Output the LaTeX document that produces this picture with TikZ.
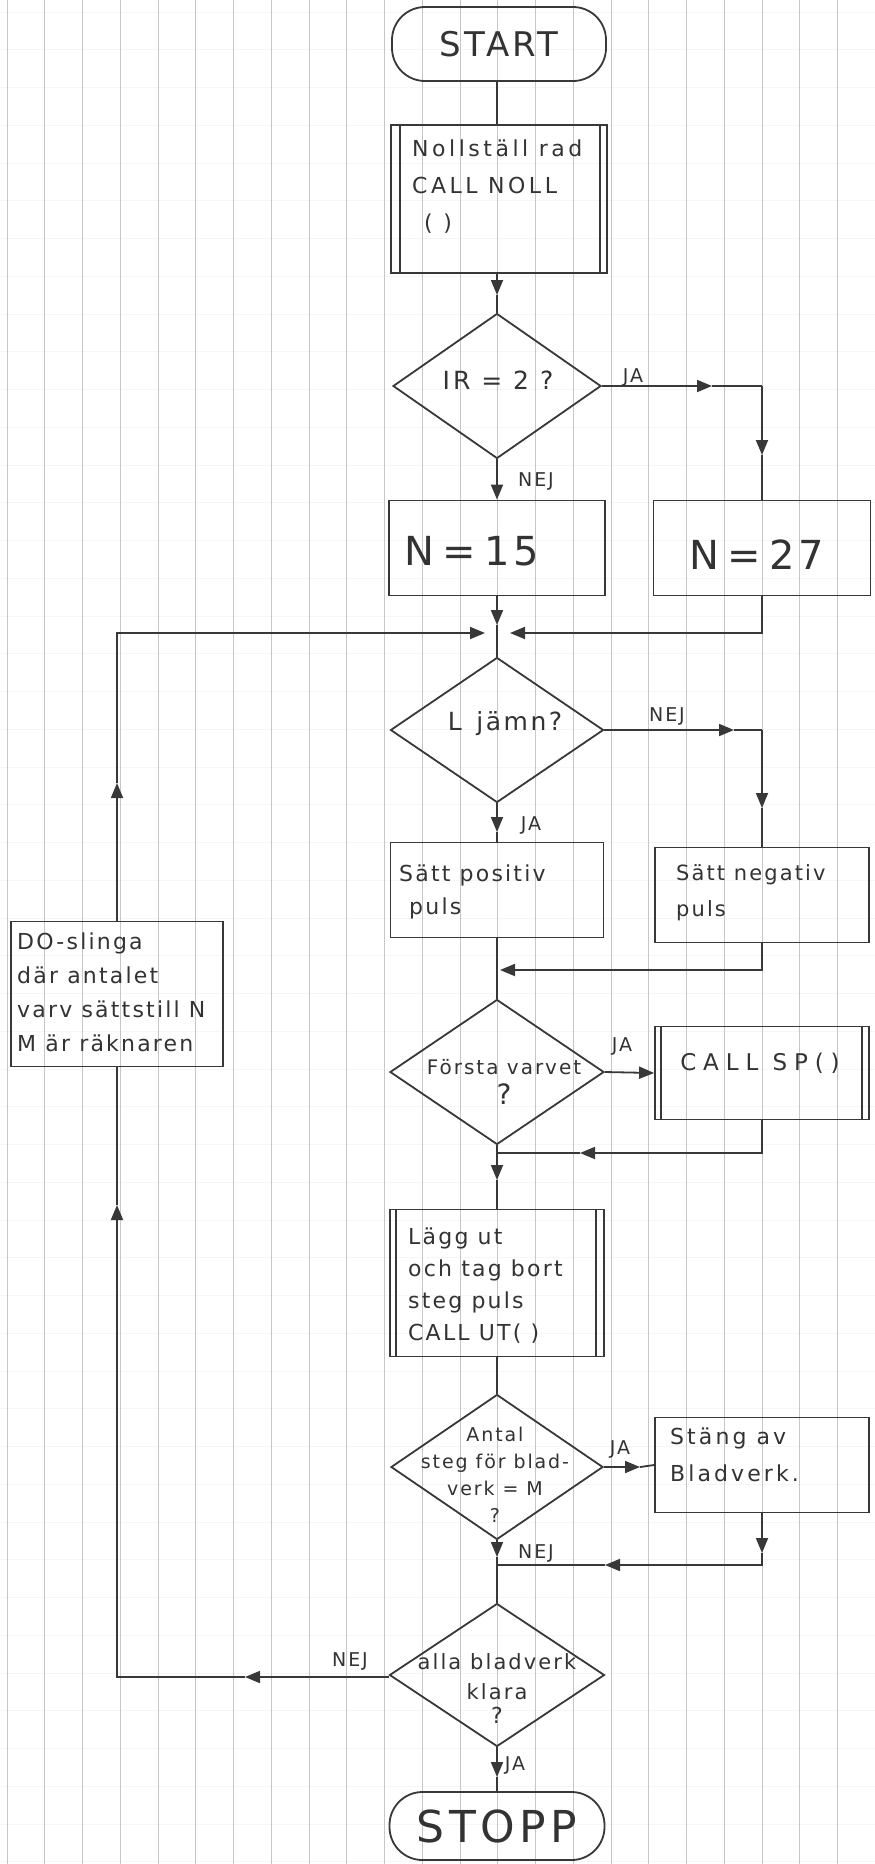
\documentclass[tikz,border=0pt]{standalone}
\usepackage{fontspec}
\setmainfont{DejaVu Sans}[LetterSpace=10]
\usetikzlibrary{shapes.geometric,arrows.meta}
\begin{document}
\begin{tikzpicture}[x=1pt,y=-1pt,
  ln/.style={line width=1.8pt, draw=black!78},
  box/.style={ln, rectangle, inner sep=0pt},
  dia/.style={ln, diamond, inner sep=0pt},
  term/.style={ln, rectangle, rounded corners=33pt, inner sep=0pt},
  arr/.style={ln, -{Triangle[length=15pt,width=12pt]}},
  lab/.style={font=\fontsize{19}{22}\selectfont, text=black!80, inner sep=0pt},
  txt/.style={font=\fontsize{22}{33}\selectfont, text=black!80, align=left, inner sep=0pt},
  ctxt/.style={text=black!80, align=center, inner sep=0pt},
]
\fill[white] (0,0) rectangle (875,1864);
\useasboundingbox (0,0) rectangle (875,1864);
% graph paper
\foreach \k in {-9,...,40} \draw[gray!7, line width=0.8pt] (0,{1522-37.75*\k}) -- (875,{1522-37.75*\k});
\foreach \k in {0,...,23} \draw[gray!45, line width=0.9pt] ({7+37.75*\k},0) -- ({7+37.75*\k},1864);

% ---------- nodes ----------
\node[term, minimum width=214pt, minimum height=74pt, font=\fontsize{34}{40}\selectfont, text=black!80] (start) at (499,44) {START};

\node[box, minimum width=216pt, minimum height=148pt] (noll) at (499,199) {};
\draw[ln] ([xshift=10pt]noll.north west) -- ([xshift=10pt]noll.south west);
\draw[ln] ([xshift=-8pt]noll.north east) -- ([xshift=-8pt]noll.south east);
\node[txt, anchor=north west, font=\fontsize{22}{37}\selectfont\addfontfeature{LetterSpace=16}] (nolltxt) at (412,140) {Nollställ rad\\CALL NOLL\\\hspace{12pt}( )};

\node[dia, minimum width=208pt, minimum height=145pt] (ir) at (497,386) {};
\node[ctxt, font=\fontsize{25}{30}\selectfont\addfontfeature{LetterSpace=12}] (irtxt) at (498,380) {IR = 2 ?};

\node[box, minimum width=216pt, minimum height=95pt] (n15) at (497,548) {};
\node[ctxt, font=\fontsize{40}{44}\selectfont] (n15txt) at (472,551) {N\hspace{8pt}=\hspace{8pt}15};

\node[box, minimum width=217pt, minimum height=95pt] (n27) at (762,548) {};
\node[ctxt, font=\fontsize{40}{44}\selectfont] (n27txt) at (757,555) {N\hspace{8pt}=\hspace{8pt}27};

\node[dia, minimum width=213pt, minimum height=145pt] (ljamn) at (497,730) {};
\node[ctxt, font=\fontsize{25}{30}\selectfont] (ljamntxt) at (505,724) {L \,jämn?};

\node[box, minimum width=213pt, minimum height=95pt] (pos) at (497,890) {};
\node[txt, anchor=north west] (postxt) at (399,865) {Sätt positiv\\\hspace{10pt}puls};

\node[box, minimum width=214pt, minimum height=95pt] (neg) at (762,895) {};
\node[txt, anchor=north west, font=\fontsize{21}{36}\selectfont] (negtxt) at (676,864) {Sätt negativ\\puls};

\node[dia, minimum width=214pt, minimum height=145pt] (forsta) at (497,1072) {};
\node[ctxt, font=\fontsize{20}{30}\selectfont] (forstatxt) at (504,1082) {Första varvet\\{\fontsize{28}{30}\selectfont ?}};

\node[box, minimum width=214pt, minimum height=93pt] (sp) at (762,1073) {};
\draw[ln] ([xshift=7pt]sp.north west) -- ([xshift=7pt]sp.south west);
\draw[ln] ([xshift=-8pt]sp.north east) -- ([xshift=-8pt]sp.south east);
\node[ctxt, font=\fontsize{23}{28}\selectfont\addfontfeature{LetterSpace=30}] (sptxt) at (760,1063) {CALL SP()};

\node[box, minimum width=214pt, minimum height=147pt] (lagg) at (497,1283) {};
\draw[ln] ([xshift=7pt]lagg.north west) -- ([xshift=7pt]lagg.south west);
\draw[ln] ([xshift=-9pt]lagg.north east) -- ([xshift=-9pt]lagg.south east);
\node[txt, anchor=north west, font=\fontsize{22}{32}\selectfont] (laggtxt) at (408,1228) {Lägg ut\\och tag bort\\steg puls\\CALL UT( )};

\node[dia, minimum width=212pt, minimum height=145pt] (antal) at (497,1467) {};
\node[ctxt, font=\fontsize{19}{27}\selectfont] (antaltxt) at (495,1475) {Antal\\steg för blad-\\verk = M\\?};

\node[box, minimum width=214pt, minimum height=95pt] (stang) at (762,1465) {};
\node[txt, anchor=north west, font=\fontsize{22}{37}\selectfont\addfontfeature{LetterSpace=14}] (stangtxt) at (670,1428) {Stäng av\\Bladverk.};

\node[dia, minimum width=215pt, minimum height=143pt] (alla) at (497,1675) {};
\node[ctxt, font=\fontsize{21}{30}\selectfont] (allatxt) at (497,1688) {alla bladverk\\klara\\[-6pt]{\fontsize{22}{24}\selectfont ?}};

\node[term, minimum width=215pt, minimum height=68pt, font=\fontsize{44}{48}\selectfont, text=black!80] (stopp) at (497,1826) {STOPP};

\node[box, minimum width=212pt, minimum height=145pt] (do) at (117,994) {};
\node[txt, anchor=north west, font=\fontsize{22}{34}\selectfont] (dotxt) at (17,933) {DO-slinga\\där antalet\\varv sättstill N\\M är räknaren};

% ---------- labels ----------
\node[lab] (l1) at (633,377) {JA};
\node[lab] (l2) at (536,481) {NEJ};
\node[lab] (l3) at (667,716) {NEJ};
\node[lab] (l4) at (531,825) {JA};
\node[lab] (l5) at (622,1046) {JA};
\node[lab] (l6) at (620,1449) {JA};
\node[lab] (l7) at (536,1553) {NEJ};
\node[lab] (l8) at (350,1661) {NEJ};
\node[lab] (l9) at (515,1765) {JA};

% ---------- coordinates ----------
\coordinate (a1) at (497,295);
\coordinate (a2) at (712,386);
\coordinate (j1) at (762,386);
\coordinate (a3) at (762,455);
\coordinate (a4) at (497,625);
\coordinate (a5) at (510,633);
\coordinate (a6) at (117,783);
\coordinate (a7) at (485,633);
\coordinate (a8) at (734,730);
\coordinate (j2) at (762,730);
\coordinate (a9) at (762,808);
\coordinate (a10) at (497,832);
\coordinate (a11) at (500,970);
\coordinate (a12) at (580,1153);
\coordinate (m3) at (497,1153);
\coordinate (a13) at (497,1180);
\coordinate (a14) at (245,1677);
\coordinate (a15) at (117,1205);
\coordinate (a16) at (640,1467);
\coordinate (a17) at (762,1553);
\coordinate (a18) at (605,1565);
\coordinate (m4) at (497,1565);
\coordinate (a19) at (497,1557);
\coordinate (a20) at (497,1777);

% ---------- connectors ----------
\draw[ln] (start.south -| a1) -- (a1 |- noll.north);
\draw[arr] (noll.south -| a1) -- (a1);
\draw[ln] (a1) -- (ir.north);
\draw[arr] (ir.east) -- (a2);
\draw[ln] (a2) -- (j1);
\draw[arr] (j1) -- (a3);
\draw[ln] (a3) -- (n27.north);
\draw[arr] (ir.south) -- (n15.north);
\draw[arr] (n15.south) -- (a4);
\draw[ln] (a4) -- (ljamn.north);
\draw[arr] (n27.south) |- (a5);
\draw[arr] (do.north) -- (a6);
\draw[arr] (a6) |- (a7);
\draw[arr] (ljamn.east) -- (a8);
\draw[ln] (a8) -- (j2);
\draw[arr] (j2) -- (a9);
\draw[ln] (a9) -- (neg.north);
\draw[arr] (ljamn.south) -- (a10);
\draw[ln] (a10) -- (pos.north);
\draw[ln] (pos.south) -- (forsta.north);
\draw[arr] (neg.south) |- (a11);
\draw[arr] (forsta.east) -- (sp.west);
\draw[arr] (sp.south) |- (a12);
\draw[ln] (a12) -- (m3);
\draw[arr] (forsta.south) -- (a13);
\draw[ln] (a13) -- (lagg.north);
\draw[ln] (lagg.south) -- (antal.north);
\draw[arr] (antal.east) -- (a16);
\draw[ln] (a16) -- (stang.west);
\draw[arr] (stang.south) -- (a17);
\draw[arr] (a17) |- (a18);
\draw[ln] (a18) -- (m4);
\draw[arr] (antal.south) -- (a19);
\draw[ln] (a19) -- (alla.north);
\draw[arr] (alla.west |- a14) -- (a14);
\draw[arr] (a14) -| (a15);
\draw[ln] (a15) -- (do.south);
\draw[arr] (alla.south) -- (a20);
\draw[ln] (a20) -- (stopp.north);
\end{tikzpicture}
\end{document}
